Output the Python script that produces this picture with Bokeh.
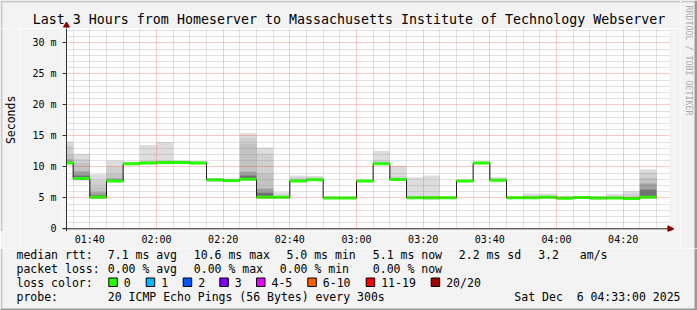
import math
from bokeh.plotting import figure
from bokeh.layouts import row, column
from bokeh.models import Range1d, FixedTicker, Arrow, NormalHead, ColumnDataSource, Span
from bokeh.core.properties import value
from bokeh.embed import file_html
from bokeh.resources import INLINE

# ---------------- data ----------------
title_text = "Last 3 Hours from Homeserver to Massachusetts Institute of Technology Webserver"
interval_start = ["01:30", "01:35", "01:40", "01:45", "01:50", "01:55", "02:00", "02:05", "02:10",
                  "02:15", "02:20", "02:25", "02:30", "02:35", "02:40", "02:45", "02:50", "02:55",
                  "03:00", "03:05", "03:10", "03:15", "03:20", "03:25", "03:30", "03:35", "03:40",
                  "03:45", "03:50", "03:55", "04:00", "04:05", "04:10", "04:15", "04:20", "04:25"]
median_ms = [10.6, 8.1, 5.1, 7.7, 10.5, 10.6, 10.7, 10.7, 10.6, 7.9, 7.8, 8.0, 5.1, 5.1, 7.7, 7.9, 4.95, 4.95,
             7.7, 10.5, 7.95, 5.0, 5.0, 5.0, 7.7, 10.6, 7.85, 5.0, 5.0, 5.1, 4.93, 5.05, 4.95, 4.95, 4.9, 5.1]
smoke_lo = [10.4, 7.8, 4.8, 7.5, 10.3, 10.4, 10.4, 10.5, 10.4, 7.6, 7.5, 7.8, 4.9, 4.9, 7.5, 7.7, 4.8, 4.8,
            7.5, 10.3, 7.7, 4.8, 4.7, 4.8, 7.5, 10.4, 7.7, 4.85, 4.85, 4.9, 4.75, 4.9, 4.7, 4.8, 4.75, 4.95]
smoke_hi1 = [14.1, 12.1, 8.8, 11.0, 10.8, 13.5, 14.0, 11.0, 10.9, 8.2, 8.1, 15.4, 13.1, 5.9, 8.6, 8.5, 5.3, 5.2,
             7.9, 12.6, 10.2, 8.3, 8.6, 5.2, 7.9, 10.8, 8.3, 5.2, 5.7, 5.7, 5.35, 5.25, 5.3, 5.6, 6.07, 9.6]
smoke_hi2 = [13.4, 11.3, 7.8, 10.0, 10.7, 10.9, 11.0, 10.9, 10.8, 8.1, 8.0, 14.7, 12.1, 5.5, 8.3, 8.3, 5.2, 5.1,
             7.8, 11.0, 8.5, 5.3, 5.3, 5.1, 7.8, 10.7, 8.1, 5.1, 5.4, 5.4, 5.2, 5.15, 5.15, 5.3, 5.6, 9.1]
smoke_hi3 = [12.0, 10.6, 6.8, 8.8, 10.6, 10.8, 10.9, 10.8, 10.7, 8.0, 7.9, 13.7, 9.0, 5.3, 8.0, 8.1, 5.1, 5.0,
             7.8, 10.7, 8.2, 5.2, 5.2, 5.1, 7.8, 10.7, 8.0, 5.1, 5.2, 5.2, 5.1, 5.1, 5.05, 5.1, 5.2, 8.2]
smoke_hi4 = [11.2, 9.3, 5.9, 8.1, 10.5, 10.7, 10.8, 10.7, 10.6, 7.9, 7.8, 9.2, 6.5, 5.2, 7.8, 8.0, 5.0, 5.0,
             7.7, 10.6, 8.0, 5.1, 5.1, 5.0, 7.7, 10.6, 7.9, 5.0, 5.1, 5.1, 5.0, 5.05, 5.0, 5.0, 5.0, 7.3]
smoke_hi5 = [10.8, 8.6, 5.4, 7.9, 10.5, 10.6, 10.7, 10.7, 10.6, 7.9, 7.8, 8.6, 5.8, 5.1, 7.7, 7.9, 4.95, 4.95,
             7.7, 10.5, 7.95, 5.0, 5.0, 5.0, 7.7, 10.6, 7.85, 5.0, 5.0, 5.1, 4.93, 5.05, 4.95, 4.95, 4.9, 6.3]
step_minutes = 5
graph_start, graph_end = "01:33", "04:33"

x_tick_labels = ["01:40", "02:00", "02:20", "02:40", "03:00", "03:20", "03:40", "04:00", "04:20"]
y_tick_values = [0, 5, 10, 15, 20, 25, 30]
y_tick_labels = ["0", "5 m", "10 m", "15 m", "20 m", "25 m", "30 m"]
y_axis_title = "Seconds"
watermark = "RRDTOOL / TOBI OETIKER"

median_stats = ["median rtt:", "7.1 ms avg", "10.6 ms max", "5.0 ms min", "5.1 ms now", "2.2 ms sd", "3.2", "am/s"]
loss_stats = ["packet loss:", "0.00 % avg", "0.00 % max", "0.00 % min", "0.00 % now"]
loss_title = "loss color:"
loss_labels = ["0", "1", "2", "3", "4-5", "6-10", "11-19", "20/20"]
loss_colors = ["#26ff00", "#00b8ff", "#0059ff", "#7e00ff", "#e600ff", "#ff5e00", "#ff0000", "#a10000"]
probe_title = "probe:"
probe_text = "20 ICMP Echo Pings (56 Bytes) every 300s"
timestamp_text = "Sat Dec \u00a06 04:33:00 2025"

# ---------------- helpers ----------------
def to_min(s):
    h, m = s.split(":")
    return int(h) * 60 + int(m)

W, H = 697, 310
BG = "#f3f3f3"
FONT = "DejaVu Sans Mono"
LIGHT, DARK = "#cbcbcb", "#9a9a9a"
TOP_H = 28   # height of the title strip

def canvas_fig(x0, x1, y0, y1):
    f = figure(width=x1 - x0, height=y1 - y0, title=None, output_backend="svg", toolbar_location=None,
               x_range=Range1d(x0, x1), y_range=Range1d(H - y1, H - y0),
               x_axis_type=None, y_axis_type=None,
               min_border_left=0, min_border_right=0, min_border_top=0, min_border_bottom=0,
               background_fill_color=BG, border_fill_color=BG, outline_line_color=None)
    return f

def txt(f, X, Y, s, size="11.5px", align="left", color="black", angle=0.0):
    f.text(x=[X], y=[H - Y], text=[s], text_font=value(FONT), text_font_size=size,
           text_color=color, text_align=align, text_baseline="middle", angle=angle)

def rect(f, X0, X1, Y0, Y1, fill, line=None):
    f.quad(left=[X0], right=[X1], top=[H - Y0], bottom=[H - Y1], fill_color=fill,
           line_color=line, line_width=1)

# ---------------- title strip ----------------
title_fig = canvas_fig(0, 680, 0, TOP_H)
rect(title_fig, 0, 680, 0, 2, LIGHT)
rect(title_fig, 0, 2, 0, TOP_H, LIGHT)
txt(title_fig, W / 2, 19, title_text, size="13.3px", align="center")
# y axis line top part + arrow head
title_fig.segment(x0=[66], x1=[66], y0=[H - TOP_H], y1=[H - 24], line_color="#333333", line_width=1)
title_fig.patch(x=[63, 69, 66], y=[H - 26.5, H - 26.5, H - 21.5], fill_color="#8b0000", line_color="#8b0000")

# ---------------- left strip (axis title) ----------------
left_fig = canvas_fig(0, 20, TOP_H, 248)
rect(left_fig, 0, 2, TOP_H, 248, LIGHT)
txt(left_fig, 10.5, 127, y_axis_title, size="11.5px", align="center", angle=math.pi / 2)

# ---------------- main chart ----------------
MX0, MX1, MY0, MY1 = 20, 680, TOP_H, 248        # figure box in canvas px
FL, FR, FT, FB = 62, 674, TOP_H, 231             # frame box in canvas px
x_start, x_end = to_min(graph_start), to_min(graph_end)
px_per_min = 600.0 / (x_end - x_start)
zero_y, px_per_ms = 228.3, 6.2
x_lo = x_start - (66 - FL) / px_per_min
x_hi = x_start + (FR - 66) / px_per_min
y_hi = (zero_y - FT) / px_per_ms
y_lo = (zero_y - FB) / px_per_ms
y_top_area = (zero_y - 26) / px_per_ms

p = figure(width=MX1 - MX0, height=MY1 - MY0, title=None, output_backend="svg", toolbar_location=None,
           x_range=Range1d(x_lo, x_hi), y_range=Range1d(y_lo, y_hi),
           min_border_left=FL - MX0, min_border_right=MX1 - FR, min_border_top=FT - MY0, min_border_bottom=MY1 - FB,
           background_fill_color="white", border_fill_color=BG, outline_line_color=None)

xt = [to_min(t) for t in x_tick_labels]
x_minor = [m for m in range(x_start + 2, x_end, 5) if m not in xt]
p.xaxis.ticker = FixedTicker(ticks=xt, minor_ticks=x_minor)
p.xaxis.major_label_overrides = {t: l for t, l in zip(xt, x_tick_labels)}
y_minor = [v for v in range(1, 33) if v not in y_tick_values]
p.yaxis.ticker = FixedTicker(ticks=y_tick_values, minor_ticks=y_minor)
p.yaxis.major_label_overrides = {t: l for t, l in zip(y_tick_values, y_tick_labels)}

for ax in (p.xaxis, p.yaxis):
    ax.major_label_text_font = FONT
    ax.major_label_text_font_size = "10px"
    ax.major_label_text_color = "black"
    ax.axis_line_color = None
    ax.minor_tick_line_color = None
    ax.major_tick_out = 0
p.xaxis.major_tick_line_color = None
p.xaxis.major_label_standoff = -2
p.yaxis.major_tick_in = 4
p.yaxis.major_tick_line_color = "#333333"
p.yaxis.major_label_standoff = 2

for g in (p.xgrid, p.ygrid):
    g.level = "annotation"
    g.grid_line_color = "#ff0000"
    g.grid_line_alpha = 0.42
    g.grid_line_dash = "1 1"
    g.minor_grid_line_color = "#808080"
    g.minor_grid_line_alpha = 0.45
    g.minor_grid_line_dash = "1 1"
try:
    p.xgrid.cross_bounds = (0, y_hi)
    p.ygrid.cross_bounds = (x_start, x_end + 3 / px_per_min)
except Exception:
    pass

# grey margins outside the graph area but inside the frame
p.quad(left=[x_lo, x_lo, x_end + 3 / px_per_min], right=[x_start, x_hi, x_hi],
       bottom=[y_lo, y_lo, y_lo], top=[y_hi, 0, y_hi], fill_color=BG, line_color=None)

draw_left = [max(s, x_start) for s in (to_min(v) for v in interval_start)]
draw_right = [to_min(v) + step_minutes for v in interval_start]
src = ColumnDataSource(dict(x0=draw_left, x1=draw_right, med=median_ms, lo=smoke_lo,
                            h1=smoke_hi1, h2=smoke_hi2, h3=smoke_hi3, h4=smoke_hi4, h5=smoke_hi5))
for col, colr in (("h1", "#dddddd"), ("h2", "#d0d0d0"), ("h3", "#c3c3c3"), ("h4", "#a0a0a0"), ("h5", "#707070")):
    p.quad(left="x0", right="x1", bottom="med", top=col, source=src, fill_color=colr, line_color=None)
p.quad(left="x0", right="x1", bottom="lo", top="med", source=src, fill_color="#d0d0d0", line_color=None)

p.step(x=draw_left + [draw_right[-1]], y=median_ms + [median_ms[-1]], mode="after",
       line_color="black", line_width=1)
p.segment(x0="x0", x1="x1", y0="med", y1="med", source=src, line_color=loss_colors[0], line_width=3)

# axes lines with arrow
p.add_layout(Span(location=x_start, dimension="height", line_color="#333333", line_width=1))
p.add_layout(Arrow(end=NormalHead(size=6, fill_color="#8b0000", line_color="#8b0000"),
                   x_start=x_lo, y_start=0, x_end=x_hi - 0.6 / px_per_min, y_end=0,
                   line_color="#333333", line_width=1))

# ---------------- right strip ----------------
right_fig = canvas_fig(680, 697, 0, 248)
rect(right_fig, 680, 697, 0, 2, LIGHT)
rect(right_fig, 694, 697, 0, 248, DARK)
txt(right_fig, 688.5, 5, watermark, size="8.3px", color="#ababab", angle=-math.pi / 2)

# ---------------- legend strip ----------------
leg = canvas_fig(0, 697, 248, 310)
rect(leg, 0, 2, 248, 310, LIGHT)
rect(leg, 694, 697, 248, 310, DARK)
rect(leg, 0, 697, 308, 310, DARK)
median_x = [16, 107.3, 193.3, 286, 372.3, 458.3, 537.7, 579.3]
for t, X in zip(median_stats, median_x):
    txt(leg, X, 254, t)
loss_x = [16, 107.3, 193.3, 279.3, 372.3]
for t, X in zip(loss_stats, loss_x):
    txt(leg, X, 268.3, t)
txt(leg, 16, 282, loss_title)
square_x = [108.3, 145.7, 182.7, 219.3, 256, 307.3, 365.7, 430.7]
for t, c, X in zip(loss_labels, loss_colors, square_x):
    rect(leg, X, X + 8.5, 277.5, 286, c, "black")
    txt(leg, X + 15, 282, t)
txt(leg, 16, 296, probe_title)
txt(leg, 107.3, 296, probe_text)
txt(leg, 680, 296, timestamp_text, align="right")

layout = column(row(column(title_fig, row(left_fig, p)), right_fig), leg)
open("out.html", "w").write(file_html(layout, INLINE))
